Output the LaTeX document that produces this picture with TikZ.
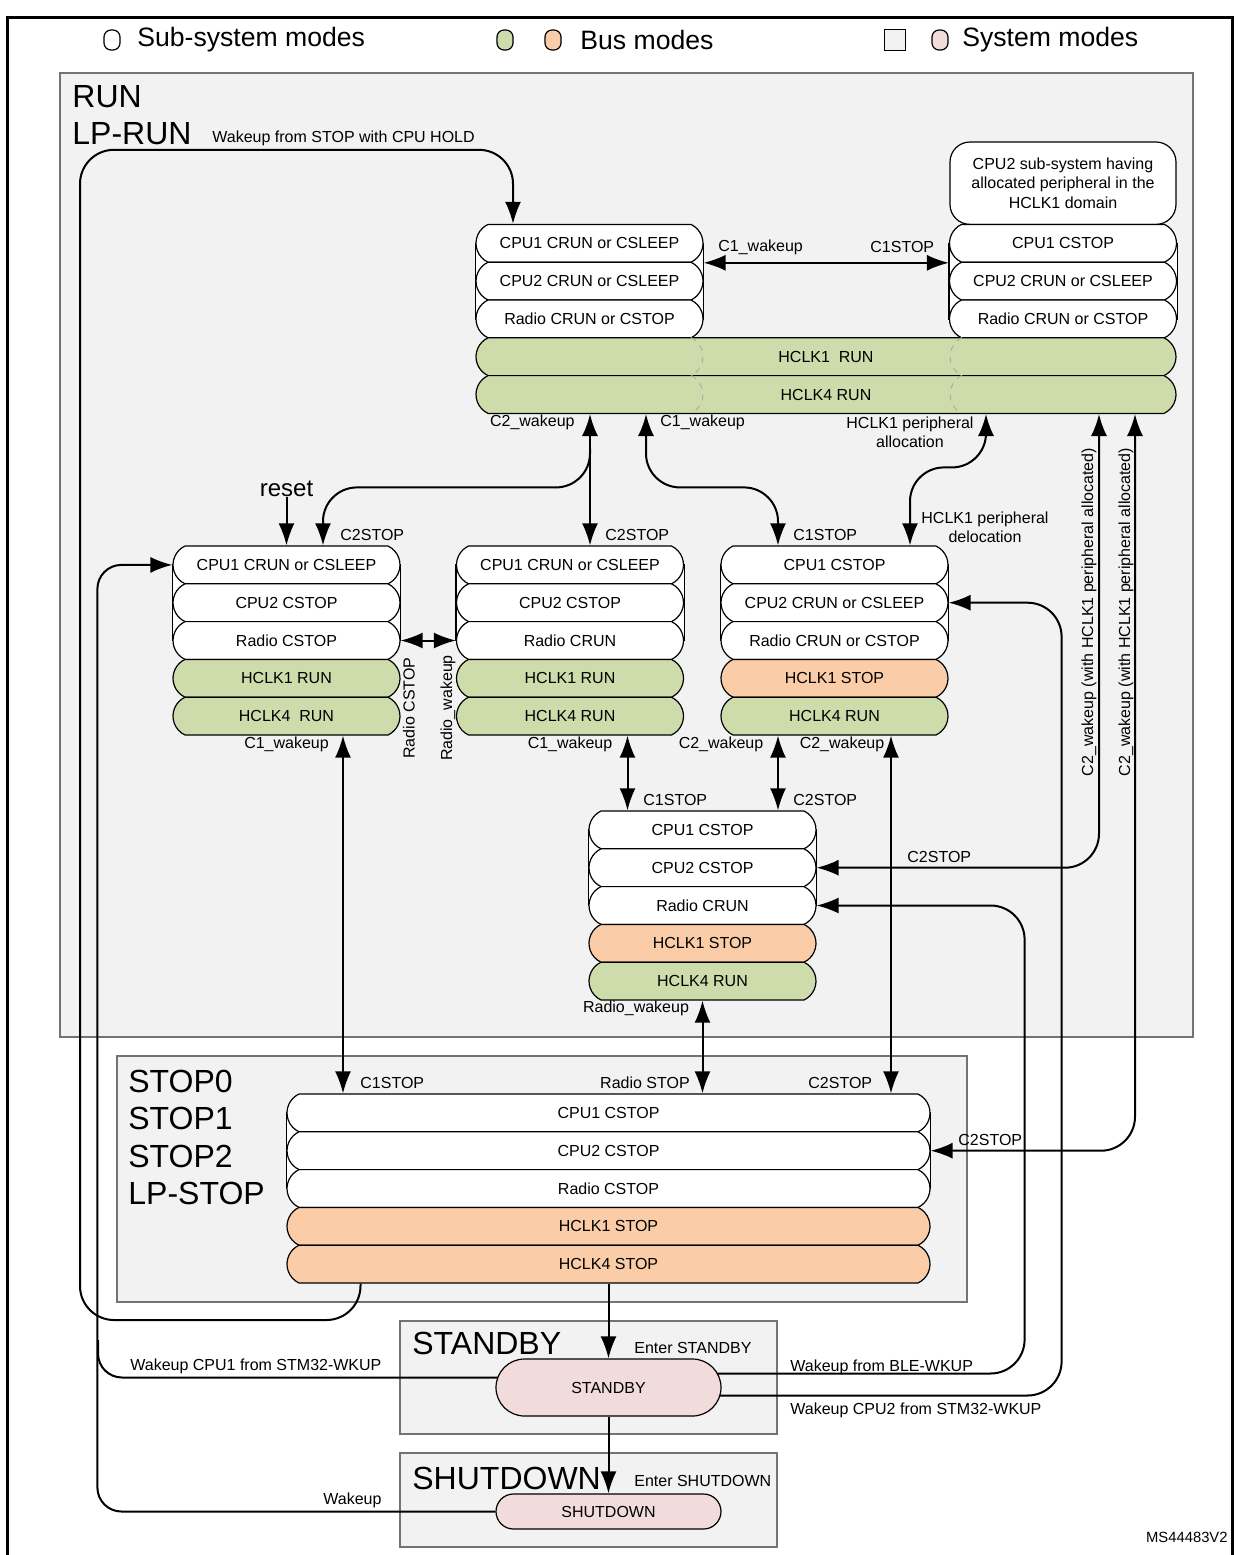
\documentclass[tikz,border=0pt]{standalone}
\usepackage{fontspec}
\setmainfont{Liberation Sans}
\usetikzlibrary{arrows.meta,calc,shapes.misc,backgrounds}

\definecolor{regiongray}{RGB}{242,242,242}
\definecolor{busgreen}{RGB}{205,220,170}
\definecolor{busorange}{RGB}{250,204,167}
\definecolor{syspink}{RGB}{242,220,219}

\tikzset{
  moderow/.style={draw, rounded rectangle, rounded rectangle arc length=130, minimum height=18.9pt, minimum width=113.5pt, inner sep=0pt, fill=white, line width=0.6pt, font=\fontsize{8}{9.5}\selectfont},
  runrow/.style={moderow, fill=busgreen},
  stoprow/.style={moderow, fill=busorange},
  sysmode/.style={draw, rounded rectangle, fill=syspink, line width=0.6pt, inner sep=0pt, minimum width=112.5pt, font=\fontsize{8}{9.5}\selectfont},
  modearea/.style={draw=black!55, fill=regiongray, line width=0.6pt},
  stackback/.style={draw, fill=white, line width=0.6pt},
  lbl/.style={inner sep=1pt, font=\fontsize{8}{9.5}\selectfont},
  biglbl/.style={inner sep=0pt, anchor=west, font=\fontsize{16}{18}\selectfont},
  legendtxt/.style={inner sep=0pt, anchor=west, font=\fontsize{13.3}{15}\selectfont},
  legendbox/.style={draw, line width=0.6pt, minimum width=8pt, minimum height=10pt, inner sep=0pt, rounded corners=3.5pt},
  conn/.style={line width=1pt, -{Latex[length=11pt,width=8pt]}},
  dconn/.style={line width=1pt, {Latex[length=11pt,width=8pt]}-{Latex[length=11pt,width=8pt]}},
  wire/.style={line width=1pt},
}

\begin{document}
\begin{tikzpicture}[x=0.5pt,y=-0.5pt]
\useasboundingbox (0,0) rectangle (1239,1555);
\draw[line width=1.5pt] (7,1560) |- (1232,17) -- (1232,1560);

% legend
\node[legendbox, fill=white] (kwhite) at (112,40) {};
\node[legendtxt] (ksub) at (137,40) {Sub-system modes};
\node[legendbox, fill=busgreen] (kgreen) at (505,40) {};
\node[legendbox, fill=busorange] (korange) at (553,40) {};
\node[legendtxt] (kbus) at (580,40) {Bus modes};
\node[draw, line width=0.6pt, fill=regiongray, minimum size=10.5pt, inner sep=0pt] (kgray) at (895,40) {};
\node[legendbox, fill=syspink] (kpink) at (940,40) {};
\node[legendtxt] (ksys) at (962,40) {System modes};

% RUN / LP-RUN, both CPUs running
\node[moderow] (a1) at (589.5,243.3) {CPU1 CRUN or CSLEEP};
\node[moderow] (a2) at (589.5,281.1) {CPU2 CRUN or CSLEEP};
\node[moderow] (a3) at (589.5,318.9) {Radio CRUN or CSTOP};
\node[draw, fill=white, rounded corners=10pt, minimum width=113pt, minimum height=41.2pt, align=center, line width=0.6pt, font=\fontsize{8}{9.75}\selectfont] (ar0) at (1063,183.2) {CPU2 sub-system having\\allocated peripheral in the\\HCLK1 domain};
\node[moderow] (ar1) at (1063,243.3) {CPU1 CSTOP};
\node[moderow] (ar2) at (1063,281.1) {CPU2 CRUN or CSLEEP};
\node[moderow] (ar3) at (1063,318.9) {Radio CRUN or CSTOP};
\node[runrow, minimum width=350pt] (ah1) at (826,356.7) {HCLK1\ \ RUN};
\node[runrow, minimum width=350pt] (ah4) at (826,394.5) {HCLK4 RUN};
\draw[dashed, black!35, line width=0.4pt] ($(ah1.north)+(-135,0)$) .. controls +(16,10) and +(16,-10) .. ($(ah1.south)+(-135,0)$);
\draw[dashed, black!35, line width=0.4pt] ($(ah4.north)+(-135,0)$) .. controls +(16,10) and +(16,-10) .. ($(ah4.south)+(-135,0)$);
\draw[dashed, black!35, line width=0.4pt] ($(ah1.north)+(136,0)$) .. controls +(-16,10) and +(-16,-10) .. ($(ah1.south)+(136,0)$);
\draw[dashed, black!35, line width=0.4pt] ($(ah4.north)+(136,0)$) .. controls +(-16,10) and +(-16,-10) .. ($(ah4.south)+(136,0)$);

% CPU1 running, CPU2 stopped
\node[moderow] (b1) at (286.5,564.9) {CPU1 CRUN or CSLEEP};
\node[moderow] (b2) at (286.5,602.7) {CPU2 CSTOP};
\node[moderow] (b3) at (286.5,640.5) {Radio CSTOP};
\node[runrow] (b4) at (286.5,678.3) {HCLK1 RUN};
\node[runrow] (b5) at (286.5,716.1) {HCLK4\ \ RUN};

\node[moderow] (c1) at (570,564.9) {CPU1 CRUN or CSLEEP};
\node[moderow] (c2) at (570,602.7) {CPU2 CSTOP};
\node[moderow] (c3) at (570,640.5) {Radio CRUN};
\node[runrow] (c4) at (570,678.3) {HCLK1 RUN};
\node[runrow] (c5) at (570,716.1) {HCLK4 RUN};

% CPU2 running, CPU1 stopped
\node[moderow] (d1) at (834.5,564.9) {CPU1 CSTOP};
\node[moderow] (d2) at (834.5,602.7) {CPU2 CRUN or CSLEEP};
\node[moderow] (d3) at (834.5,640.5) {Radio CRUN or CSTOP};
\node[stoprow] (d4) at (834.5,678.3) {HCLK1 STOP};
\node[runrow] (d5) at (834.5,716.1) {HCLK4 RUN};

% radio only
\node[moderow] (e1) at (702.5,829.9) {CPU1 CSTOP};
\node[moderow] (e2) at (702.5,867.7) {CPU2 CSTOP};
\node[moderow] (e3) at (702.5,905.5) {Radio CRUN};
\node[stoprow] (e4) at (702.5,943.3) {HCLK1 STOP};
\node[runrow] (e5) at (702.5,981.1) {HCLK4 RUN};

% STOP modes
\node[moderow, minimum width=321.5pt] (f1) at (608.5,1112.9) {CPU1 CSTOP};
\node[moderow, minimum width=321.5pt] (f2) at (608.5,1150.7) {CPU2 CSTOP};
\node[moderow, minimum width=321.5pt] (f3) at (608.5,1188.5) {Radio CSTOP};
\node[stoprow, minimum width=321.5pt] (f4) at (608.5,1226.3) {HCLK1 STOP};
\node[stoprow, minimum width=321.5pt] (f5) at (608.5,1264.1) {HCLK4 STOP};

\node[sysmode, minimum height=28.5pt] (stb) at (608.5,1387.5) {STANDBY};
\node[sysmode, minimum height=17.5pt] (shd) at (608.5,1511.5) {SHUTDOWN};

% area names
\node[biglbl] (nrun) at (72,97) {RUN};
\node[biglbl] (nlprun) at (72,134) {LP-RUN};
\node[biglbl] (nstop0) at (128,1081) {STOP0};
\node[biglbl] (nstop1) at (128,1118.5) {STOP1};
\node[biglbl] (nstop2) at (128,1156) {STOP2};
\node[biglbl] (nlpstop) at (128,1193.5) {LP-STOP};
\node[biglbl] (nstb) at (412,1343) {STANDBY};
\node[biglbl] (nshd) at (412,1478) {SHUTDOWN};
\node[inner sep=0pt, font=\fontsize{12}{14}\selectfont] (rst) at (286.5,489) {reset};

% transition labels
\node[lbl, anchor=west] (lhold) at (210,138) {Wakeup from STOP with CPU HOLD};
\node[lbl, anchor=west] (la1) at (716,247) {C1\_wakeup};
\node[lbl, anchor=west] (la2) at (868,247) {C1STOP};
\node[lbl, anchor=east] (la3) at (577,422) {C2\_wakeup};
\node[lbl, anchor=west] (la4) at (658,422) {C1\_wakeup};
\node[lbl, align=center] (la5) at (910,432) {HCLK1 peripheral\\allocation};
\node[lbl, align=center] (la6) at (985,527) {HCLK1 peripheral\\delocation};
\node[lbl, anchor=west] (lb1) at (338,535) {C2STOP};
\node[lbl, anchor=west] (lc1) at (603,535) {C2STOP};
\node[lbl, anchor=west] (ld1) at (791,535) {C1STOP};
\node[lbl, rotate=90] (lb2) at (409,708) {Radio CSTOP};
\node[lbl, rotate=90] (lc2) at (448,708) {Radio\_wakeup};
\node[lbl] (lb3) at (286.5,744) {C1\_wakeup};
\node[lbl] (lc3) at (570,744) {C1\_wakeup};
\node[lbl] (ld3) at (721,744) {C2\_wakeup};
\node[lbl] (ld4) at (842,744) {C2\_wakeup};
\node[lbl, anchor=west] (le1) at (641,800) {C1STOP};
\node[lbl, anchor=west] (le2) at (791,800) {C2STOP};
\node[lbl, anchor=west] (le3) at (905,857) {C2STOP};
\node[lbl, rotate=90] (lw1) at (1089,612) {C2\_wakeup (with HCLK1 peripheral allocated)};
\node[lbl, rotate=90] (lw2) at (1126,612) {C2\_wakeup (with HCLK1 peripheral allocated)};
\node[lbl] (le4) at (636,1008) {Radio\_wakeup};
\node[lbl, anchor=west] (lf1) at (358,1083) {C1STOP};
\node[lbl] (lf2) at (645,1083) {Radio STOP};
\node[lbl, anchor=west] (lf3) at (806,1083) {C2STOP};
\node[lbl, anchor=west] (lf4) at (956,1140) {C2STOP};
\node[lbl, anchor=west] (ls1) at (632,1348) {Enter STANDBY};
\node[lbl, anchor=west] (ls2) at (128,1366) {Wakeup CPU1 from STM32-WKUP};
\node[lbl, anchor=west] (ls3) at (788,1367) {Wakeup from BLE-WKUP};
\node[lbl, anchor=west] (ls4) at (788,1410) {Wakeup CPU2 from STM32-WKUP};
\node[lbl, anchor=west] (lh1) at (632,1481) {Enter SHUTDOWN};
\node[lbl, anchor=west] (lh2) at (321,1500) {Wakeup};
\node[inner sep=0pt, anchor=east, font=\fontsize{7.4}{9}\selectfont] (ref) at (1228,1537) {MS44483V2};

\begin{scope}[on background layer]
% areas
\draw[modearea] (60,73) rectangle (1193,1037);
\draw[modearea] (117,1056) rectangle (967,1302);
\draw[modearea] (400,1321) rectangle (777,1434);
\draw[modearea] (400,1453) rectangle (777,1547);

% stack backs
\draw[stackback] (a1.west) rectangle (a3.east);
\draw[stackback] (ar1.west) rectangle (ar3.east);
\draw[stackback] (b1.west) rectangle (b3.east);
\draw[stackback] (c1.west) rectangle (c3.east);
\draw[stackback] (d1.west) rectangle (d3.east);
\draw[stackback] (e1.west) rectangle (e3.east);
\draw[stackback] (f1.west) rectangle (f3.east);

% wakeup with CPU hold
\draw[conn, rounded corners=17pt] ($(f5.south)+(-248,0)$) |- (80,1320) |- ($(a1.north)+(-76.5,-74)$) -- ($(a1.north)+(-76.5,0)$);

% wakeups from STANDBY / SHUTDOWN
\coordinate (merge) at (98,1340);
\draw[conn, rounded corners=12pt] (shd.west) -| ($(b1.west)+(-75,0)$) -- (b1.west);
\draw[wire, rounded corners=12pt] ($(stb.west)+(6,-10)$) -| (merge);
\draw[conn, rounded corners=17pt] ($(stb.east)+(-6,-14)$) -| ($(e3.east)+(208,0)$) -- (e3.east);
\draw[conn, rounded corners=17pt] ($(stb.east)+(-6,8)$) -| ($(d2.east)+(113,0)$) -- (d2.east);

% C2 wakeup with HCLK1 peripheral allocated
\draw[dconn, rounded corners=17pt] ($(ah4.south)+(273,0)$) |- (e2.east);
\draw[dconn, rounded corners=17pt] ($(ah4.south)+(309,0)$) |- (f2.east);

% between RUN sub-modes
\draw[dconn] (a1.south -| a1.east) -- (ar1.south -| ar1.west);
\draw[dconn] ($(ah4.south)+(-236,0)$) -- ($(c1.north)+(20,0)$);
\coordinate (split) at ($(ah4.south)+(-236,35)$);
\draw[conn, rounded corners=17pt] (split) |- ($(b1.north)+(36.5,-58)$) -- ($(b1.north)+(36.5,0)$);
\draw[dconn, rounded corners=17pt] ($(ah4.south)+(-180,0)$) |- ($(d1.north)+(-56.5,-58)$) -- ($(d1.north)+(-56.5,0)$);
\draw[dconn, rounded corners=17pt] ($(ah4.south)+(160,0)$) |- ($(d1.north)+(75.5,-78)$) -- ($(d1.north)+(75.5,0)$);
\draw[conn] (rst) -- (b1.north);
\draw[dconn] (b3.east) -- (c3.west);

% down to radio only and STOP
\draw[dconn] ($(b5.south)+(56.5,0)$) -- ($(f1.north)+(-265.5,0)$);
\draw[dconn] ($(c5.south)+(57.5,0)$) -- ($(e1.north)+(-75,0)$);
\draw[dconn] ($(d5.south)+(-56.5,0)$) -- ($(e1.north)+(75.5,0)$);
\draw[dconn] ($(d5.south)+(56.5,0)$) -- ($(f1.north)+(282.5,0)$);
\draw[dconn] (e5.south) -- ($(f1.north)+(94,0)$);
\draw[conn] (f5.south) -- (stb.north);
\draw[conn] (stb.south) -- (shd.north);
\end{scope}

\end{tikzpicture}
\end{document}
